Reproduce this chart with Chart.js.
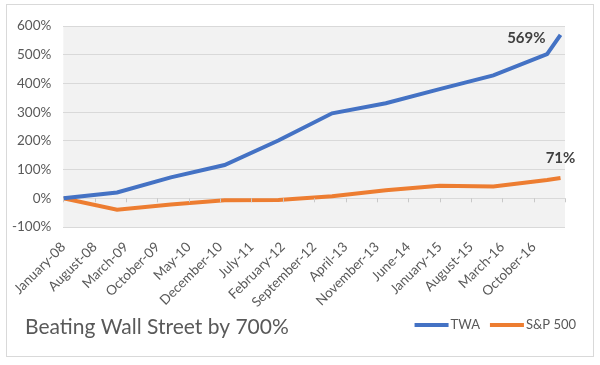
<!DOCTYPE html>
<html>
<head>
<meta charset="utf-8">
<script src="https://cdn.jsdelivr.net/npm/chart.js@4"></script>
<style>
  html, body { margin: 0; padding: 0; background: #fff; }
  .wrap { width: 600px; height: 365px; position: relative; }
</style>
</head>
<body>
<div class="wrap"><canvas class="js-chart" width="600" height="365"></canvas></div>
<script>
const ctx = document.querySelector('.js-chart').getContext('2d');

// x positions are months counted from January 2008
const tickLabels = ['January-08', 'August-08', 'March-09', 'October-09', 'May-10', 'December-10',
    'July-11', 'February-12', 'September-12', 'April-13', 'November-13', 'June-14',
    'January-15', 'August-15', 'March-16', 'October-16'];
const pointMonths = [0, 12, 24, 36, 48, 60, 72, 84, 96, 108, 111];
const twaValues = [0, 20, 73, 116, 201, 296, 331, 380, 428, 502, 569];
const spValues = [0, -40, -22, -7, -6, 7, 28, 44, 41, 64, 71];
const endLabels = ['569%', '71%'];
const chartTitle = 'Beating Wall Street by 700%';

const FONT = 'Lato, "Open Sans", sans-serif';
const TEXT = '#595959';

function toPoints(values) {
    return values.map((v, i) => ({ x: pointMonths[i], y: v }));
}

const decorations = {
    id: 'decorations',
    beforeDraw(chart) {
        const { ctx, chartArea: a } = chart;
        ctx.save();
        ctx.fillStyle = '#fff';
        ctx.fillRect(0, 0, chart.width, chart.height);
        ctx.fillStyle = '#f2f2f2';
        ctx.fillRect(a.left, a.top, a.right - a.left, a.bottom - a.top);
        ctx.strokeStyle = '#d9d9d9';
        ctx.lineWidth = 1;
        ctx.strokeRect(6.5, 4.5, 587, 352);
        ctx.restore();
    },
    afterDatasetsDraw(chart) {
        const { ctx, scales } = chart;
        const y0 = scales.y.getPixelForValue(0);
        ctx.save();
        // little tick marks on the 0% line
        ctx.strokeStyle = '#c8c8c8';
        ctx.lineWidth = 1;
        scales.x.ticks.forEach((t) => {
            const px = Math.round(scales.x.getPixelForValue(t.value)) + 0.5;
            ctx.beginPath();
            ctx.moveTo(px, y0);
            ctx.lineTo(px, y0 + 4);
            ctx.stroke();
        });

        // value labels at the last points
        ctx.font = 'bold 15px ' + FONT;
        ctx.fillStyle = '#404040';
        ctx.textBaseline = 'middle';
        const last = pointMonths.length - 1;
        const p0 = chart.getDatasetMeta(0).data[last];
        ctx.textAlign = 'right';
        ctx.fillText(endLabels[0], p0.x - 15, p0.y + 3);
        const p1 = chart.getDatasetMeta(1).data[last];
        ctx.textAlign = 'center';
        ctx.fillText(endLabels[1], p1.x, p1.y - 20);

        // title bottom left
        ctx.font = '21px ' + FONT;
        ctx.fillStyle = TEXT;
        ctx.textAlign = 'left';
        ctx.fillText(chartTitle, 25, 327);

        // legend bottom right
        ctx.font = '13px ' + FONT;
        let x = 576;
        const items = chart.data.datasets.slice().reverse();
        items.forEach((ds) => {
            const w = ctx.measureText(ds.label).width;
            ctx.textAlign = 'right';
            ctx.fillStyle = TEXT;
            ctx.fillText(ds.label, x, 325);
            x -= w + 2;
            ctx.strokeStyle = ds.borderColor;
            ctx.lineWidth = 4;
            ctx.beginPath();
            ctx.moveTo(x - 34, 325);
            ctx.lineTo(x, 325);
            ctx.stroke();
            x -= 34 + 10;
        });
        ctx.restore();
    }
};

new Chart(ctx, {
    type: 'line',
    data: {
        datasets: [{
            label: 'TWA',
            data: toPoints(twaValues),
            borderColor: '#4472c4',
            borderWidth: 4,
            pointRadius: 0,
            tension: 0
        },
        {
            label: 'S&P 500',
            data: toPoints(spValues),
            borderColor: '#ed7d31',
            borderWidth: 4,
            pointRadius: 0,
            tension: 0
        }]
    },
    options: {
        responsive: false,
        animation: false,
        layout: { padding: { top: 26, right: 35, bottom: 0, left: 0 } },
        plugins: {
            legend: { display: false },
            tooltip: { enabled: false }
        },
        scales: {
            x: {
                type: 'linear',
                min: 0,
                max: 112,
                grid: { display: false },
                border: { display: false },
                afterFit(scale) {
                    scale.height = 138;
                },
                ticks: {
                    stepSize: 7,
                    autoSkip: false,
                    minRotation: 45,
                    maxRotation: 45,
                    padding: 4,
                    color: TEXT,
                    font: { family: FONT, size: 13.5 },
                    callback(value) {
                        return tickLabels[value / 7] || '';
                    }
                }
            },
            y: {
                min: -100,
                max: 600,
                grid: { color: '#d9d9d9', drawTicks: false },
                border: { display: false },
                ticks: {
                    stepSize: 100,
                    padding: 12,
                    color: TEXT,
                    font: { family: FONT, size: 13.5 },
                    callback(value) {
                        return value + '%';
                    }
                }
            }
        }
    },
    plugins: [decorations]
});
</script>
</body>
</html>
